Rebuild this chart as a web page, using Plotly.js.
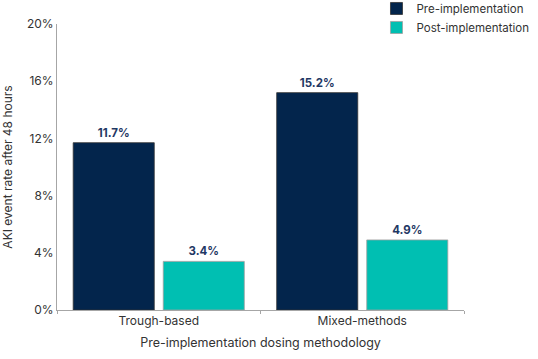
<!DOCTYPE html>
<html><head><meta charset="utf-8">
<script src="https://cdn.plot.ly/plotly-3.0.1.min.js"></script>
<style>body{margin:0;background:#fff}#c{width:538px;height:359px}</style>
</head><body><div id="c"></div>
<script>
var categories = ["Trough-based", "Mixed-methods"];
var preValues = [11.7, 15.2];
var postValues = [3.4, 4.9];
var seriesNames = ["Pre-implementation", "Post-implementation"];
var yTicks = [0, 4, 8, 12, 16, 20];
var yTickText = ["0%", "4%", "8%", "12%", "16%", "20%"];

var fontFam = "Inter, 'Noto Sans', sans-serif";
function lbl(v){ return v.map(function(x){ return x.toFixed(1) + "%"; }); }
var traces = [
  {type:"bar", name:seriesNames[0], x:categories, y:preValues, text:lbl(preValues),
   textposition:"outside", cliponaxis:false,
   textfont:{family:fontFam, size:11.5, color:"#1F3864", weight:700},
   marker:{color:"#03254C", line:{color:"#333333", width:0.8}}},
  {type:"bar", name:seriesNames[1], x:categories, y:postValues, text:lbl(postValues),
   textposition:"outside", cliponaxis:false,
   textfont:{family:fontFam, size:11.5, color:"#1F3864", weight:700},
   marker:{color:"#00BFB2", line:{color:"#A0A0A0", width:0.8}}}
];
var layout = {
  width:538, height:359,
  margin:{l:57, r:74, t:24, b:49, autoexpand:false},
  paper_bgcolor:"#fff", plot_bgcolor:"#fff",
  font:{family:fontFam, size:12, color:"#333"},
  barmode:"group", bargap:0.115, bargroupgap:0.1,
  showlegend:true,
  legend:{x:0.785, xanchor:"left", y:1.105, yanchor:"top", bgcolor:"rgba(0,0,0,0)",
          font:{family:fontFam, size:11.5, color:"#333"}, tracegroupgap:0, itemwidth:30},
  xaxis:{showline:true, linecolor:"#A6A6A6", linewidth:1, ticks:"outside", tickson:"boundaries",
         ticklen:3, tickcolor:"#A6A6A6", showgrid:false, zeroline:false,
         tickfont:{family:fontFam, size:12, color:"#333"},
         title:{text:"Pre-implementation dosing methodology", font:{family:fontFam, size:12.5, color:"#333"}, standoff:10}},
  yaxis:{range:[0,20], tickvals:yTicks, ticktext:yTickText, showline:true, linecolor:"#A6A6A6",
         linewidth:1, ticks:"", showgrid:false, zeroline:false,
         tickfont:{family:fontFam, size:12, color:"#333"},
         title:{text:"AKI event rate after 48 hours", font:{family:fontFam, size:12, color:"#333"}, standoff:12}}
};
Plotly.newPlot("c", traces, layout, {displayModeBar:false, staticPlot:true});
</script></body></html>
